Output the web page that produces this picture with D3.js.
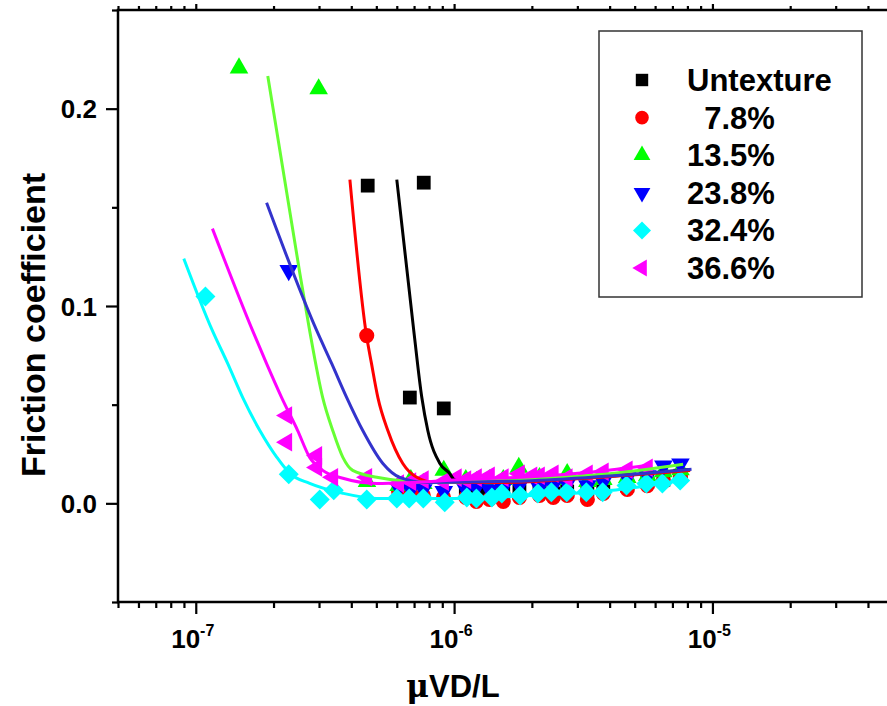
<!DOCTYPE html>
<html>
<head>
<meta charset="utf-8">
<script src="https://cdn.jsdelivr.net/npm/d3@7"></script>
<style>
  body { margin: 0; background: #fff; }
  text { font-family: "Liberation Sans", Arial, sans-serif; font-weight: bold; fill: #000; }
</style>
</head>
<body>
<div id="chart"></div>
<script>
// Series names and legend labels
const seriesNames = ["Untexture", "7.8%", "13.5%", "23.8%", "32.4%", "36.6%"];
const legendLabels = ["Untexture", "  7.8%", "13.5%", "23.8%", "32.4%", "36.6%"];

// Measured points [uVD/L, friction coefficient]
const untextureData = [
  [4.63e-7, 0.161], [7.63e-7, 0.1625], [6.74e-7, 0.0536], [9.12e-7, 0.0481],
  [1.11e-6, 0.008], [1.22e-6, 0.006], [1.37e-6, 0.007], [1.55e-6, 0.005], [1.79e-6, 0.006],
  [2.14e-6, 0.007], [2.42e-6, 0.005], [2.74e-6, 0.006], [3.28e-6, 0.007], [3.78e-6, 0.008],
  [4.68e-6, 0.009], [5.6e-6, 0.011], [6.46e-6, 0.012], [7.52e-6, 0.014]
];
const tex78Data = [
  [4.59e-7, 0.085],
  [6.1e-7, 0.006], [6.8e-7, 0.005], [7.6e-7, 0.004], [9.1e-7, 0.003], [1.11e-6, 0.003],
  [1.22e-6, 0.001], [1.37e-6, 0.002], [1.55e-6, 0.001], [1.79e-6, 0.003], [2.14e-6, 0.004],
  [2.42e-6, 0.003], [2.74e-6, 0.004], [3.28e-6, 0.002], [3.78e-6, 0.005], [4.68e-6, 0.007],
  [5.6e-6, 0.009], [6.46e-6, 0.011], [7.52e-6, 0.013]
];
const tex135Data = [
  [1.47e-7, 0.2206], [2.99e-7, 0.210],
  [4.6e-7, 0.011], [6.1e-7, 0.009], [6.8e-7, 0.012], [7.6e-7, 0.010], [9.12e-7, 0.0167],
  [1.11e-6, 0.012], [1.22e-6, 0.011], [1.37e-6, 0.012], [1.55e-6, 0.012], [1.78e-6, 0.0182],
  [2.14e-6, 0.013], [2.42e-6, 0.012], [2.74e-6, 0.015], [3.28e-6, 0.011], [3.78e-6, 0.012],
  [4.68e-6, 0.013], [5.6e-6, 0.014], [6.46e-6, 0.016], [7.52e-6, 0.017]
];
const tex238Data = [
  [2.29e-7, 0.118],
  [6.1e-7, 0.008], [6.8e-7, 0.007], [7.6e-7, 0.007], [9.12e-7, 0.006], [1.11e-6, 0.007],
  [1.22e-6, 0.008], [1.37e-6, 0.007], [1.55e-6, 0.008], [1.79e-6, 0.009], [2.14e-6, 0.008],
  [2.42e-6, 0.009], [2.74e-6, 0.010], [3.28e-6, 0.009], [3.78e-6, 0.011], [4.68e-6, 0.013],
  [5.6e-6, 0.014], [6.46e-6, 0.019], [7.52e-6, 0.020]
];
const tex324Data = [
  [1.09e-7, 0.1048], [2.29e-7, 0.0147], [3.02e-7, 0.002], [3.42e-7, 0.0066], [4.59e-7, 0.002],
  [6.0e-7, 0.0025], [6.7e-7, 0.0025], [7.6e-7, 0.0025], [9.2e-7, 0.0005], [1.12e-6, 0.003],
  [1.22e-6, 0.0025], [1.4e-6, 0.003], [1.53e-6, 0.005], [1.8e-6, 0.004], [2.11e-6, 0.005],
  [2.38e-6, 0.0056], [2.73e-6, 0.0056], [3.25e-6, 0.0056], [3.76e-6, 0.0056], [4.65e-6, 0.009],
  [5.55e-6, 0.010], [6.4e-6, 0.010], [7.5e-6, 0.0116]
];
const tex366Data = [
  [2.25e-7, 0.0445], [2.25e-7, 0.031], [2.94e-7, 0.0243], [2.94e-7, 0.0182], [3.39e-7, 0.0132],
  [4.59e-7, 0.0132],
  [6.1e-7, 0.010], [6.8e-7, 0.011], [7.6e-7, 0.012], [9.1e-7, 0.011], [1.02e-6, 0.013],
  [1.11e-6, 0.012], [1.22e-6, 0.013], [1.37e-6, 0.014], [1.55e-6, 0.013], [1.79e-6, 0.015],
  [2.0e-6, 0.014], [2.14e-6, 0.014], [2.42e-6, 0.015], [2.74e-6, 0.013], [3.28e-6, 0.015],
  [3.78e-6, 0.016], [4.68e-6, 0.017], [5.6e-6, 0.018]
];

// Fitted curves
const untextureFit = [
  [6.0e-7, 0.164], [6.98e-7, 0.0875], [7.5e-7, 0.0536], [7.91e-7, 0.0369], [8.81e-7, 0.0202],
  [9.6e-7, 0.0152], [1.0e-6, 0.0121], [1.06e-6, 0.0112], [1.26e-6, 0.011], [2e-6, 0.0118],
  [4e-6, 0.0138], [8.2e-6, 0.0172]
];
const tex78Fit = [
  [3.95e-7, 0.164], [4.58e-7, 0.085], [4.79e-7, 0.0708], [5.07e-7, 0.0536], [5.54e-7, 0.0369],
  [6.33e-7, 0.0202], [7.17e-7, 0.0132], [8.42e-7, 0.0106], [1.5e-6, 0.0105], [3e-6, 0.0125],
  [8.2e-6, 0.0167]
];
const tex135Fit = [
  [1.9e-7, 0.2166], [2.53e-7, 0.1164], [2.76e-7, 0.0875], [3.1e-7, 0.0536], [3.39e-7, 0.0369],
  [3.71e-7, 0.0233], [4.05e-7, 0.0167], [5.02e-7, 0.0132], [8.05e-7, 0.0106], [2e-6, 0.0125],
  [4e-6, 0.015], [7.7e-6, 0.0198]
];
const tex238Fit = [
  [1.88e-7, 0.1523], [2.94e-7, 0.0875], [3.36e-7, 0.0708], [3.84e-7, 0.0536], [4.43e-7, 0.0369],
  [5.3e-7, 0.0202], [6.16e-7, 0.0132], [7.84e-7, 0.0106], [2e-6, 0.0115], [4e-6, 0.0138],
  [8.3e-6, 0.0173]
];
const tex324Fit = [
  [8.99e-8, 0.124], [1.16e-7, 0.0875], [1.33e-7, 0.0708], [1.52e-7, 0.0536], [1.77e-7, 0.0369],
  [2.06e-7, 0.0233], [2.31e-7, 0.0152], [2.76e-7, 0.0101], [3.71e-7, 0.0051], [5.02e-7, 0.0025],
  [1e-6, 0.0025], [2e-6, 0.004], [4e-6, 0.0065], [7.5e-6, 0.0115]
];
const tex366Fit = [
  [1.16e-7, 0.1392], [1.66e-7, 0.0875], [1.88e-7, 0.0708], [2.15e-7, 0.0536], [2.48e-7, 0.0369],
  [2.76e-7, 0.0233], [3.1e-7, 0.0167], [3.71e-7, 0.0127], [5.02e-7, 0.0101], [1.26e-6, 0.0125],
  [2e-6, 0.0135], [3.5e-6, 0.016], [5.6e-6, 0.0193]
];

const pointSets = [untextureData, tex78Data, tex135Data, tex238Data, tex324Data, tex366Data];
const fitSets = [untextureFit, tex78Fit, tex135Fit, tex238Fit, tex324Fit, tex366Fit];

// Axis ticks
const xMajorTicks = [1e-7, 1e-6, 1e-5];
const xMajorExp = ["-7", "-6", "-5"];
const yMajorTicks = [0, 0.1, 0.2];
const yMajorLabels = ["0.0", "0.1", "0.2"];
const yMinorTicks = [-0.05, 0.05, 0.15, 0.25];

// Styling
const markerColors = ["#000000", "#ff0000", "#00ff00", "#0000ff", "#00ffff", "#ff00ff"];
const curveColors = ["#000000", "#ff0000", "#66ff33", "#3333cc", "#00ffff", "#ff00ff"];
const markerShapes = ["square", "circle", "up", "down", "diamond", "left"];

const width = 887, height = 706;
const plotLeft = 118, plotTop = 10, plotBottom = 602, plotRight = 893;

const svg = d3.select("#chart").append("svg")
  .attr("width", width)
  .attr("height", height)
  .style("display", "block");

svg.append("rect").attr("width", width).attr("height", height).attr("fill", "#fff");

const x = d3.scaleLog().domain([5e-8, 5e-5]).range([plotLeft, plotRight]);
const y = d3.scaleLinear().domain([-0.05, 0.25]).range([plotBottom, plotTop]);

// minor x ticks: 2..9 within each decade
const xMinorTicks = [];
for (let e = -8; e <= -5; e++) {
  for (let m = 2; m <= 9; m++) {
    const v = m * Math.pow(10, e);
    if (v >= 5e-8 && v <= 5e-5) xMinorTicks.push(v);
  }
}

function addAxis(axis, tx, ty) {
  const g = svg.append("g").attr("transform", `translate(${tx},${ty})`).call(axis);
  g.select(".domain").remove();
  g.selectAll(".tick line").attr("stroke", "#000").attr("stroke-width", 2.2);
  g.selectAll(".tick text").remove();
  return g;
}

// bottom ticks
addAxis(d3.axisBottom(x).tickValues(xMinorTicks).tickSize(6).tickFormat(""), 0, plotBottom);
addAxis(d3.axisBottom(x).tickValues(xMajorTicks).tickSize(12).tickFormat(""), 0, plotBottom);
// top ticks (mostly cut off)
addAxis(d3.axisTop(x).tickValues(xMinorTicks).tickSize(4).tickFormat(""), 0, plotTop);
addAxis(d3.axisTop(x).tickValues(xMajorTicks).tickSize(6).tickFormat(""), 0, plotTop);
// left ticks
addAxis(d3.axisLeft(y).tickValues(yMinorTicks).tickSize(6).tickFormat(""), plotLeft, 0);
addAxis(d3.axisLeft(y).tickValues(yMajorTicks).tickSize(12).tickFormat(""), plotLeft, 0);

// frame
svg.append("path")
  .attr("d", `M${plotRight},${plotTop} H${plotLeft} V${plotBottom} H${plotRight}`)
  .attr("fill", "none")
  .attr("stroke", "#000")
  .attr("stroke-width", 2.5);

// x tick labels
xMajorTicks.forEach((v, i) => {
  const t = svg.append("text")
    .attr("x", x(v) - 3)
    .attr("y", 648)
    .attr("text-anchor", "middle")
    .attr("font-size", "26px");
  t.append("tspan").text("10");
  t.append("tspan").attr("dy", -12).attr("font-size", "16px").text(xMajorExp[i]);
});

// y tick labels
yMajorTicks.forEach((v, i) => {
  svg.append("text")
    .attr("x", 97)
    .attr("y", y(v) + 9.5)
    .attr("text-anchor", "end")
    .attr("font-size", "26px")
    .text(yMajorLabels[i]);
});

// axis titles
svg.append("text")
  .attr("transform", "translate(45,325) rotate(-90)")
  .attr("text-anchor", "middle")
  .attr("font-size", "34px")
  .text("Friction coefficient");

const xt = svg.append("text")
  .attr("x", 453)
  .attr("y", 697)
  .attr("text-anchor", "middle")
  .attr("font-size", "31px");
xt.append("tspan").attr("font-family", "'DejaVu Serif', serif").text("\u03bc");
xt.append("tspan").text("VD/L");

// markers
function markerPath(shape) {
  if (shape === "square") return d3.symbol(d3.symbolSquare, 190)();
  if (shape === "circle") return d3.symbol(d3.symbolCircle, 180)();
  if (shape === "diamond") return d3.symbol(d3.symbolSquare, 200)();
  return d3.symbol(d3.symbolTriangle, 150)();
}
function markerRotate(shape) {
  if (shape === "down") return 180;
  if (shape === "left") return -90;
  if (shape === "diamond") return 45;
  return 0;
}

const pointsGroup = svg.append("g");
pointSets.forEach((pts, i) => {
  pointsGroup.append("g")
    .selectAll("path")
    .data(pts)
    .join("path")
    .attr("d", markerPath(markerShapes[i]))
    .attr("transform", d => `translate(${x(d[0])},${y(d[1])}) rotate(${markerRotate(markerShapes[i])})`)
    .attr("fill", markerColors[i]);
});

// fitted curves
const line = d3.line()
  .x(d => x(d[0]))
  .y(d => y(d[1]))
  .curve(d3.curveMonotoneX);

const curvesGroup = svg.append("g");
fitSets.forEach((pts, i) => {
  curvesGroup.append("path")
    .datum(pts)
    .attr("d", line)
    .attr("fill", "none")
    .attr("stroke", curveColors[i])
    .attr("stroke-width", 3);
});

// legend
const legend = svg.append("g");
legend.append("rect")
  .attr("x", 599).attr("y", 31)
  .attr("width", 263).attr("height", 266)
  .attr("fill", "#fff")
  .attr("stroke", "#333")
  .attr("stroke-width", 1.5);

const legendY = d3.scalePoint().domain(seriesNames).range([80, 268]);
seriesNames.forEach((name, i) => {
  const cy = legendY(name);
  legend.append("path")
    .attr("d", markerPath(markerShapes[i]))
    .attr("transform", `translate(642,${cy}) rotate(${markerRotate(markerShapes[i])}) scale(0.9)`)
    .attr("fill", markerColors[i]);
  legend.append("text")
    .attr("x", 687)
    .attr("y", cy + 11)
    .attr("font-size", "31px")
    .style("white-space", "pre")
    .text(legendLabels[i]);
});
</script>
</body>
</html>
